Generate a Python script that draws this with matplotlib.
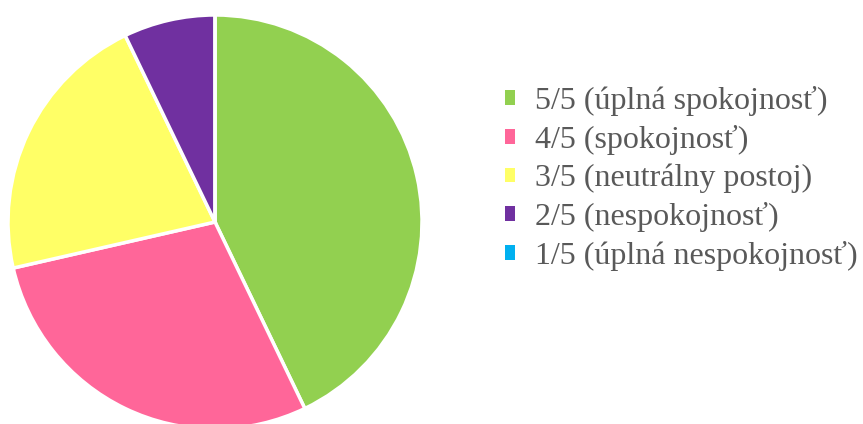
import matplotlib.pyplot as plt
from matplotlib.patches import Patch

# Data
labels = ['5/5 (úplná spokojnosť)', '4/5 (spokojnosť)', '3/5 (neutrálny postoj)',
          '2/5 (nespokojnosť)', '1/5 (úplná nespokojnosť)']
counts = [6, 4, 3, 1, 0]
colors = ['#92D050', '#FF6699', '#FFFF66', '#7030A0', '#00B0F0']

plt.rcParams['font.family'] = ['Liberation Serif', 'DejaVu Serif']

fig = plt.figure(figsize=(8.63, 4.24), dpi=100)
W, H = 863, 424
cx, cy, r = 215, 222, 207
ax = fig.add_axes([(cx - r) / W, (H - cy - r) / H, 2 * r / W, 2 * r / H])
ax.pie(counts, colors=colors, startangle=90, counterclock=False, radius=1,
       wedgeprops=dict(edgecolor='white', linewidth=2.5))
ax.set_xlim(-1, 1)
ax.set_ylim(-1, 1)
ax.set_aspect('equal')
ax.axis('off')

handles = [Patch(facecolor=c, edgecolor='none') for c in colors]
leg = fig.legend(handles, labels, loc='center left', bbox_to_anchor=(505 / W, 1 - 178.5 / H),
                 frameon=False, fontsize=23, handlelength=0.32, handleheight=0.32,
                 handletextpad=0.62, labelspacing=0.28, borderaxespad=0, borderpad=0)
for t in leg.get_texts():
    t.set_color('#595959')

fig.savefig('out.png', dpi=100)
